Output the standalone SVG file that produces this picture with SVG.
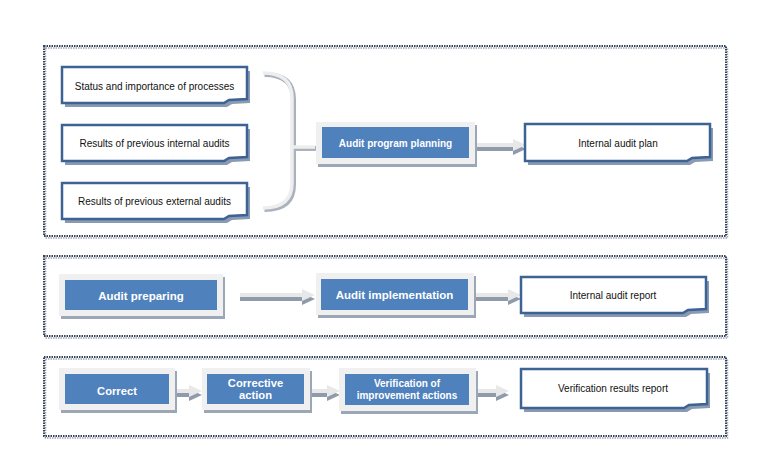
<svg xmlns="http://www.w3.org/2000/svg" width="758" height="467" viewBox="0 0 758 467">
<style>
.pnl{fill:none;stroke:#34425a;stroke-width:2;stroke-dasharray:1.5 1}
.pnl2{fill:none;stroke:#9aa3b3;stroke-width:1.5;stroke-dasharray:1.5 1}
.fr{fill:#f0f0f0}
.frs{fill:#9ba6b6}
.bl{fill:#4f81bd}
.bt{font-family:"Liberation Sans",Arial,sans-serif;font-weight:bold;fill:#ffffff;text-anchor:middle}
.nt{fill:#ffffff;stroke:#3d6294;stroke-width:2.5;stroke-linejoin:miter}
.ns{fill:#8a9ab2}
.tx{font-family:"Liberation Sans",Arial,sans-serif;font-size:10px;fill:#111111;text-anchor:middle}
.al{fill:#e8e8e8}
.ad{fill:#8f9bad}
.brs{fill:none;stroke:#aab2bd;stroke-width:5}
.brl{fill:none;stroke:#eeeeee;stroke-width:3.5}
</style>

<g id="panels">
  <rect class="pnl2" x="45.5" y="48" width="682" height="190"/>
  <rect class="pnl" x="44" y="46" width="682" height="190"/>
  <rect class="pnl2" x="45.5" y="258" width="682" height="80"/>
  <rect class="pnl" x="44" y="256" width="682" height="80"/>
  <rect class="pnl2" x="45.5" y="359" width="682" height="79"/>
  <rect class="pnl" x="44" y="357" width="682" height="79"/>
</g>

<g id="connectors">
  <g id="brace">
    <path class="brs" transform="translate(1.5,1.5)" d="M263,73 Q292,73 292,98 L292,183 Q292,208 263,208 M292,147 L315,147"/>
    <path class="brl" d="M263,73 Q292,73 292,98 L292,183 Q292,208 263,208 M292,147 L315,147"/>
  </g>
  <g id="a1">
    <polygon class="ad" transform="translate(0,4)" points="477,143 513,143 513,139 526,145 513,151 513,147 477,147"/>
    <polygon class="al" points="477,143 513,143 513,139 526,145 513,151 513,147 477,147"/>
  </g>
  <g id="a2">
    <polygon class="ad" transform="translate(0,4)" points="240,293 302,293 302,289 315,295 302,301 302,297 240,297"/>
    <polygon class="al" points="240,293 302,293 302,289 315,295 302,301 302,297 240,297"/>
  </g>
  <g id="a3">
    <polygon class="ad" transform="translate(0,4)" points="475,293 508,293 508,289 521,295 508,301 508,297 475,297"/>
    <polygon class="al" points="475,293 508,293 508,289 521,295 508,301 508,297 475,297"/>
  </g>
  <g id="a4">
    <polygon class="ad" transform="translate(0,4)" points="176,389 189,389 189,385 202,391 189,397 189,393 176,393"/>
    <polygon class="al" points="176,389 189,389 189,385 202,391 189,397 189,393 176,393"/>
  </g>
  <g id="a5">
    <polygon class="ad" transform="translate(0,4)" points="311,389 327,389 327,385 340,391 327,397 327,393 311,393"/>
    <polygon class="al" points="311,389 327,389 327,385 340,391 327,397 327,393 311,393"/>
  </g>
  <g id="a6">
    <polygon class="ad" transform="translate(0,4)" points="477,389 496,389 496,385 509,391 496,397 496,393 477,393"/>
    <polygon class="al" points="477,389 496,389 496,385 509,391 496,397 496,393 477,393"/>
  </g>
</g>

<g id="n-status">
  <polygon class="ns" transform="translate(3,4)" points="62,67 247,67 247,99 229,100 224,103 62,103"/>
  <polygon class="nt" points="62,67 247,67 247,99 229,100 224,103 62,103"/>
  <text class="tx" x="154.5" y="89.5">Status and importance of processes</text>
</g>
<g id="n-internal">
  <polygon class="ns" transform="translate(3,4)" points="62,125 247,125 247,157 229,158 224,161 62,161"/>
  <polygon class="nt" points="62,125 247,125 247,157 229,158 224,161 62,161"/>
  <text class="tx" x="154.5" y="147">Results of previous internal audits</text>
</g>
<g id="n-external">
  <polygon class="ns" transform="translate(3,4)" points="62,183 247,183 247,215 229,216 224,219 62,219"/>
  <polygon class="nt" points="62,183 247,183 247,215 229,216 224,219 62,219"/>
  <text class="tx" x="154.5" y="205">Results of previous external audits</text>
</g>

<g id="n-planning">
  <rect class="frs" x="318" y="125" width="159" height="42"/>
  <rect class="fr" x="316" y="122" width="159" height="42"/>
  <rect class="bl" x="322" y="127" width="147" height="31"/>
  <text class="bt" x="395.5" y="146.5" font-size="10">Audit program planning</text>
</g>

<g id="n-plan">
  <polygon class="ns" transform="translate(3,4)" points="525,124 710,124 710,157 692,158 687,161 525,161"/>
  <polygon class="nt" points="525,124 710,124 710,157 692,158 687,161 525,161"/>
  <text class="tx" x="618" y="147">Internal audit plan</text>
</g>

<g id="n-preparing">
  <rect class="frs" x="61" y="277" width="164" height="42"/>
  <rect class="fr" x="59" y="274" width="164" height="42"/>
  <rect class="bl" x="65" y="280" width="152" height="30"/>
  <text class="bt" x="141" y="299.5" font-size="11.5">Audit preparing</text>
</g>

<g id="n-implementation">
  <rect class="frs" x="318" y="276" width="158" height="42"/>
  <rect class="fr" x="316" y="273" width="158" height="42"/>
  <rect class="bl" x="321" y="279" width="147" height="31"/>
  <text class="bt" x="394.5" y="299" font-size="11.5">Audit implementation</text>
</g>

<g id="n-report">
  <polygon class="ns" transform="translate(3,4)" points="521,277 706,277 706,309 688,310 683,313 521,313"/>
  <polygon class="nt" points="521,277 706,277 706,309 688,310 683,313 521,313"/>
  <text class="tx" x="613" y="298.5">Internal audit report</text>
</g>

<g id="n-correct">
  <rect class="frs" x="61" y="371" width="116" height="42"/>
  <rect class="fr" x="59" y="368" width="116" height="42"/>
  <rect class="bl" x="65" y="374" width="104" height="30"/>
  <text class="bt" x="117" y="394.5" font-size="11.2">Correct</text>
</g>

<g id="n-corrective">
  <rect class="frs" x="204" y="371" width="108" height="42"/>
  <rect class="fr" x="202" y="368" width="108" height="42"/>
  <rect class="bl" x="207" y="374" width="97" height="30"/>
  <text class="bt" x="255.5" y="386.5" font-size="11.2">Corrective</text>
  <text class="bt" x="255.5" y="398.5" font-size="11.2">action</text>
</g>

<g id="n-verification">
  <rect class="frs" x="341" y="371" width="137" height="43"/>
  <rect class="fr" x="339" y="368" width="137" height="43"/>
  <rect class="bl" x="345" y="374" width="124" height="31"/>
  <text class="bt" x="407" y="387" font-size="10">Verification of</text>
  <text class="bt" x="407" y="398.5" font-size="10">improvement actions</text>
</g>

<g id="n-results">
  <polygon class="ns" transform="translate(3,4)" points="521,369 707,369 707,404 689,405 684,408 521,408"/>
  <polygon class="nt" points="521,369 707,369 707,404 689,405 684,408 521,408"/>
  <text class="tx" x="613" y="392">Verification results report</text>
</g>
</svg>
